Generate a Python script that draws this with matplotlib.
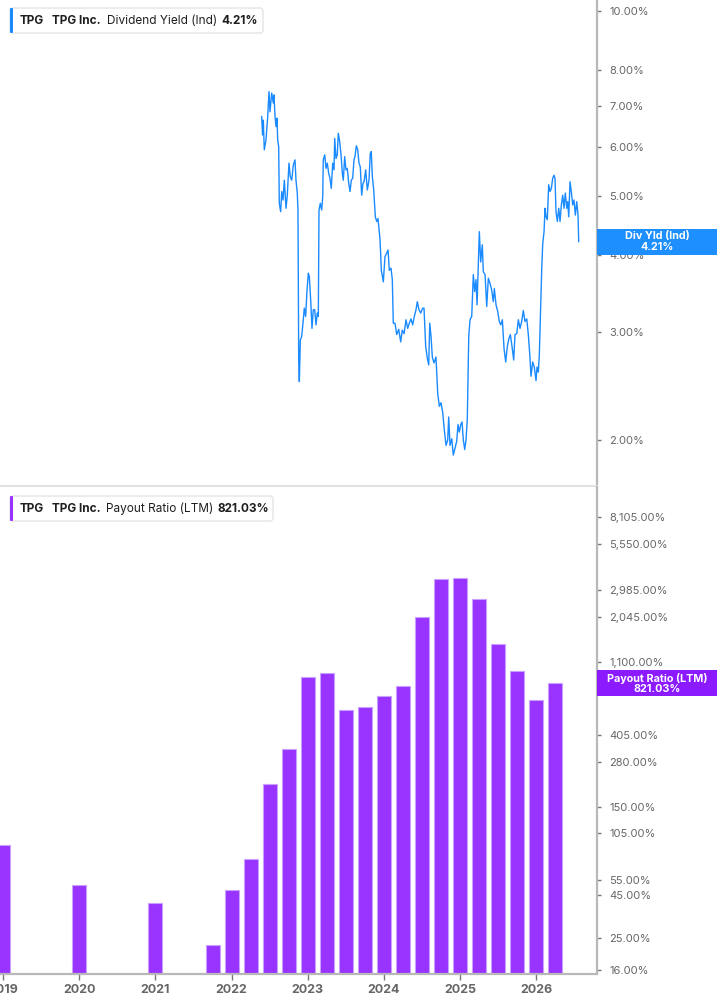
import matplotlib
matplotlib.use('Agg')
import matplotlib.pyplot as plt
from matplotlib.patches import Rectangle, FancyBboxPatch
from matplotlib.ticker import NullLocator

plt.rcParams['font.family'] = ['Inter', 'DejaVu Sans']

# ---------------- data ----------------
yld_dates = [
    2022.395, 2022.406, 2022.416, 2022.423, 2022.429, 2022.451, 2022.474, 2022.491, 2022.504, 2022.526,
    2022.547, 2022.556, 2022.570, 2022.583, 2022.596, 2022.605, 2022.618, 2022.626, 2022.644, 2022.658,
    2022.675, 2022.692, 2022.714, 2022.731, 2022.753, 2022.770, 2022.789, 2022.810, 2022.832, 2022.845,
    2022.862, 2022.871, 2022.881, 2022.889, 2022.902, 2022.920, 2022.941, 2022.954, 2022.972, 2022.990,
    2023.007, 2023.020, 2023.038, 2023.055, 2023.072, 2023.091, 2023.108, 2023.125, 2023.138, 2023.147,
    2023.164, 2023.182, 2023.196, 2023.203, 2023.222, 2023.239, 2023.256, 2023.274, 2023.291, 2023.308,
    2023.327, 2023.344, 2023.353, 2023.370, 2023.387, 2023.400, 2023.419, 2023.436, 2023.453, 2023.466,
    2023.484, 2023.501, 2023.518, 2023.537, 2023.554, 2023.571, 2023.589, 2023.606, 2023.619, 2023.637,
    2023.655, 2023.672, 2023.689, 2023.707, 2023.724, 2023.738, 2023.760, 2023.781, 2023.803, 2023.820,
    2023.833, 2023.847, 2023.865, 2023.886, 2023.904, 2023.921, 2023.948, 2023.965, 2023.991, 2024.013,
    2024.035, 2024.053, 2024.070, 2024.092, 2024.109, 2024.122, 2024.144, 2024.167, 2024.193, 2024.219,
    2024.240, 2024.263, 2024.289, 2024.311, 2024.332, 2024.354, 2024.377, 2024.398, 2024.420, 2024.437,
    2024.459, 2024.482, 2024.508, 2024.525, 2024.547, 2024.568, 2024.587, 2024.600, 2024.617, 2024.634,
    2024.656, 2024.682, 2024.705, 2024.726, 2024.748, 2024.770, 2024.791, 2024.814, 2024.836, 2024.849,
    2024.866, 2024.889, 2024.909, 2024.932, 2024.954, 2024.971, 2024.988, 2025.007, 2025.024, 2025.041,
    2025.059, 2025.076, 2025.093, 2025.112, 2025.129, 2025.151, 2025.172, 2025.190, 2025.207, 2025.221,
    2025.238, 2025.251, 2025.269, 2025.290, 2025.303, 2025.326, 2025.348, 2025.369, 2025.391, 2025.413,
    2025.434, 2025.448, 2025.470, 2025.492, 2025.513, 2025.532, 2025.553, 2025.575, 2025.597, 2025.618,
    2025.640, 2025.658, 2025.680, 2025.702, 2025.719, 2025.742, 2025.763, 2025.785, 2025.807, 2025.828,
    2025.850, 2025.873, 2025.894, 2025.916, 2025.929, 2025.951, 2025.972, 2025.995, 2026.008, 2026.025,
    2026.038, 2026.056, 2026.070, 2026.083, 2026.100, 2026.113, 2026.126, 2026.143, 2026.161, 2026.179,
    2026.196, 2026.214, 2026.231, 2026.244, 2026.257, 2026.274, 2026.293, 2026.310, 2026.327, 2026.345,
    2026.362, 2026.379, 2026.398, 2026.411, 2026.424, 2026.441, 2026.458, 2026.476, 2026.493, 2026.511,
    2026.529, 2026.546, 2026.555]

yld_values = [
    6.73, 6.28, 6.64, 6.21, 5.94, 6.16, 6.73, 7.39, 6.85, 7.35,
    7.08, 7.30, 6.73, 6.48, 6.69, 6.16, 6.01, 4.86, 4.71, 5.08,
    4.92, 5.30, 4.77, 5.01, 5.65, 5.37, 5.30, 5.61, 5.72, 5.30,
    5.05, 4.74, 2.67, 2.49, 2.91, 2.95, 3.14, 3.28, 3.18, 3.51,
    3.74, 3.69, 3.38, 3.04, 3.26, 3.26, 3.08, 3.22, 3.18, 4.74,
    4.86, 4.74, 4.98, 5.72, 5.83, 5.54, 5.65, 5.44, 5.34, 5.14,
    5.65, 5.51, 6.20, 5.75, 5.83, 6.32, 6.12, 5.83, 5.44, 5.30,
    5.79, 5.51, 5.54, 5.24, 5.08, 5.30, 5.34, 5.72, 5.79, 6.03,
    5.94, 5.65, 5.57, 5.01, 5.24, 5.27, 5.51, 5.11, 5.30, 5.86,
    5.90, 5.37, 5.11, 4.62, 4.54, 4.59, 4.24, 3.78, 3.62, 3.98,
    4.03, 4.08, 3.78, 3.81, 3.65, 3.10, 3.10, 2.97, 3.03, 2.89,
    3.02, 2.98, 3.14, 3.04, 3.10, 3.15, 3.08, 3.18, 3.26, 3.36,
    3.26, 3.22, 3.28, 3.28, 2.84, 2.72, 2.65, 3.10, 2.95, 2.73,
    2.67, 2.73, 2.38, 2.27, 2.30, 2.22, 2.08, 1.96, 2.00, 2.18,
    1.96, 2.01, 1.89, 1.94, 1.99, 2.12, 2.06, 2.12, 2.14, 2.00,
    1.93, 2.00, 2.16, 2.95, 3.14, 3.18, 3.72, 3.49, 3.65, 3.32,
    3.88, 4.37, 3.90, 4.16, 3.76, 3.72, 3.30, 3.67, 3.60, 3.51,
    3.36, 3.53, 3.32, 3.24, 3.12, 3.08, 3.14, 2.82, 2.68, 2.84,
    2.93, 2.97, 2.84, 2.70, 2.97, 2.98, 3.14, 3.04, 3.12, 3.25,
    3.12, 3.15, 2.97, 2.72, 2.54, 2.68, 2.63, 2.50, 2.63, 2.58,
    2.75, 3.28, 3.81, 4.18, 4.37, 4.77, 4.62, 4.57, 5.21, 5.08,
    5.14, 5.34, 5.40, 5.34, 4.71, 4.54, 4.77, 4.54, 4.83, 5.01,
    4.77, 5.05, 4.77, 4.89, 4.62, 5.27, 5.08, 4.83, 4.92, 4.65,
    4.89, 4.65, 4.21]

pay_dates = [2019.0, 2020.0, 2021.0, 2021.75, 2022.0, 2022.25, 2022.5, 2022.75,
             2023.0, 2023.25, 2023.5, 2023.75, 2024.0, 2024.25, 2024.5, 2024.75,
             2025.0, 2025.25, 2025.5, 2025.75, 2026.0, 2026.25]
pay_values = [89, 51.5, 40, 22.6, 48, 73.6, 206, 334,
              898, 949, 571, 595, 692, 794, 2047, 3455,
              3500, 2625, 1413, 975, 655, 821.03]

yld_ticks = [2, 3, 4, 5, 6, 7, 8, 10]
pay_ticks = [16, 25, 45, 55, 105, 150, 280, 405, 755, 1100, 2045, 2985, 5550, 8105]
year_ticks = [2019, 2020, 2021, 2022, 2023, 2024, 2025, 2026]
year_labels = ['2019', '2020', '2021', '2022', '2023', '2024', '2025', '2026']

ticker_txt = 'TPG'
company_txt = 'TPG Inc.'
yld_name = 'Dividend Yield (Ind)'
pay_name = 'Payout Ratio (LTM)'
yld_tag = 'Div Yld (Ind)'
pay_tag = 'Payout Ratio (LTM)'

# ---------------- styling ----------------
W, H = 717, 1005
BLUE = '#1a8aff'
BLUE_TAG = '#1e8fff'
PURPLE = '#9933ff'
PURPLE_TAG = '#8c1aff'
SPINE = '#b8b8b8'
TICKLBL = '#666666'

fig = plt.figure(figsize=(W / 100, H / 100), dpi=100)
fig.patch.set_facecolor('white')

ax1 = fig.add_axes([0, 1 - 486 / H, 597 / W, 486 / H])
ax2 = fig.add_axes([0, 1 - 974 / H, 597 / W, 487 / H])

XLIM = (2018.961, 2026.795)

# ---- top panel: dividend yield line ----
ax1.plot(yld_dates, yld_values, color=BLUE, lw=1.0, solid_joinstyle='round')
ax1.set_yscale('log')
ax1.set_ylim(1.683, 10.42)
ax1.set_xlim(*XLIM)
ax1.yaxis.tick_right()
ax1.yaxis.set_minor_locator(NullLocator())
ax1.set_yticks(yld_ticks)
ax1.set_yticklabels([f'{v:,.2f}%' for v in yld_ticks])
ax1.set_xticks([])
ax1.tick_params(axis='y', direction='out', length=3, width=1, color='#777777',
                labelcolor=TICKLBL, labelsize=8, pad=6)
for s in ['top', 'left']:
    ax1.spines[s].set_visible(False)
ax1.spines['right'].set_color(SPINE)
ax1.spines['right'].set_linewidth(1.6)
ax1.spines['bottom'].set_color('#e2e2e2')
ax1.spines['bottom'].set_linewidth(1.5)

# ---- bottom panel: payout ratio bars ----
ax2.bar(pay_dates, pay_values, width=0.184, color=PURPLE, edgecolor='#c8a0ff',
        linewidth=0.8, zorder=2)
ax2.set_yscale('log')
ax2.set_ylim(15.14, 12230)
ax2.set_xlim(*XLIM)
ax2.yaxis.tick_right()
ax2.yaxis.set_minor_locator(NullLocator())
ax2.set_yticks(pay_ticks)
ax2.set_yticklabels([f'{v:,.2f}%' for v in pay_ticks])
ax2.set_xticks(year_ticks)
ax2.set_xticklabels(year_labels, fontweight='bold')
ax2.tick_params(axis='y', direction='out', length=3, width=1, color='#777777',
                labelcolor=TICKLBL, labelsize=8, pad=6)
ax2.tick_params(axis='x', direction='out', length=4, width=1, color='#777777',
                labelcolor=TICKLBL, labelsize=9, pad=3)
for s in ['top', 'left']:
    ax2.spines[s].set_visible(False)
ax2.spines['right'].set_color(SPINE)
ax2.spines['right'].set_linewidth(1.6)
ax2.spines['bottom'].set_color(SPINE)
ax2.spines['bottom'].set_linewidth(1.6)


# ---- value tags on the right axis ----
def value_tag(ax, val, color, name):
    _, yd = ax.transData.transform((XLIM[0], val))
    rect = Rectangle((597, yd - 13), 120, 26, transform=None, facecolor=color,
                     edgecolor='none', zorder=10)
    fig.add_artist(rect)
    fig.text(657 / W, yd / H, f'{name}\n{val:,.2f}%', ha='center', va='center',
             color='white', fontweight='bold', fontsize=7.8, linespacing=1.05,
             zorder=11)


value_tag(ax1, yld_values[-1], BLUE_TAG, yld_tag)
value_tag(ax2, pay_values[-1], PURPLE_TAG, pay_tag)


# ---- legend boxes ----
def legend_box(top, bottom, right, color, name, val, xs):
    box = FancyBboxPatch((10, H - bottom), right - 10, bottom - top,
                         boxstyle='round,pad=0,rounding_size=3', transform=None,
                         facecolor='white', edgecolor='#e4e4e4', lw=1, zorder=10)
    fig.add_artist(box)
    strip = FancyBboxPatch((10, H - bottom), 3, bottom - top,
                           boxstyle='round,pad=0,rounding_size=1', transform=None,
                           facecolor=color, edgecolor='none', zorder=11)
    fig.add_artist(strip)
    yc = 1 - ((top + bottom) / 2) / H
    parts = [(ticker_txt, 'bold'), (company_txt, 'bold'), (name, 'normal'),
             (f'{val:,.2f}%', 'bold')]
    for (txt, wt), x in zip(parts, xs):
        fig.text(x / W, yc, txt, ha='left', va='center', fontsize=8.5,
                 fontweight=wt, color='#1f1f1f', zorder=12)


legend_box(8, 33, 263, BLUE, yld_name, yld_values[-1], [20, 52, 107, 221])
legend_box(496, 521, 273, PURPLE, pay_name, pay_values[-1], [20, 52, 106, 217])

fig.savefig('out.png', dpi=100, facecolor='white')
